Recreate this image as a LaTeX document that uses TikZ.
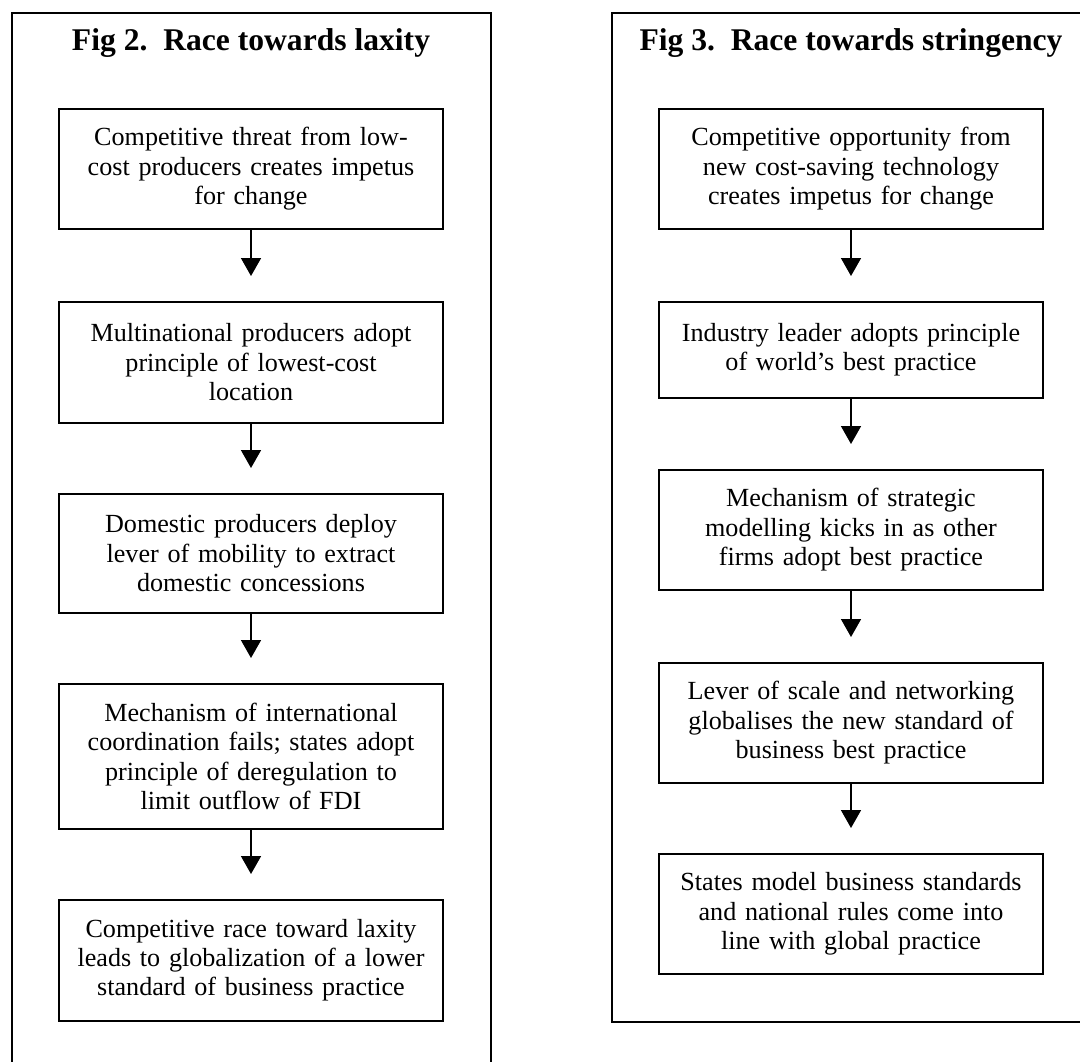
\documentclass[tikz,border=0pt]{standalone}
\usepackage{fontspec}
\setmainfont{Liberation Serif}
\usetikzlibrary{arrows.meta}
\begin{document}
\begin{tikzpicture}[x=0.75pt,y=-0.75pt,
  frame/.style={draw,line width=1.3pt},
  stepbox/.style={draw,line width=1.2pt,rectangle,anchor=north,text width=282pt,inner xsep=3pt,align=center,font=\fontsize{19.6pt}{22pt}\selectfont},
  ttl/.style={anchor=base,font=\fontsize{23.7pt}{26pt}\selectfont\bfseries},
  arr/.style={line width=1.2pt,-{Triangle[width=15pt,length=13.5pt]},shorten >=18.75pt}]
\useasboundingbox (0,0) rectangle (1080,1061);
\clip (0,0) rectangle (1080,1061);
\draw[frame] (12,13) rectangle (491,1080);
\draw[frame] (612,13) rectangle (1091,1022);

\node[ttl] (t2) at (251,50) {Fig 2.\ \ Race towards laxity};
\node[ttl] (t3) at (851,50) {Fig 3.\ \ Race towards stringency};

\node[stepbox,minimum height=90pt] (L1) at (251,108) {Competitive threat from low-\\cost producers creates impetus\\for change};
\node[stepbox,minimum height=90.75pt] (L2) at (251,301) {Multinational producers adopt\\principle of lowest-cost\\location};
\node[stepbox,minimum height=89.25pt] (L3) at (251,493) {Domestic producers deploy\\lever of mobility to extract\\domestic concessions};
\node[stepbox,minimum height=108.75pt] (L4) at (251,683) {Mechanism of international\\coordination fails; states adopt\\principle of deregulation to\\limit outflow of FDI};
\node[stepbox,minimum height=90.75pt] (L5) at (251,899) {Competitive race toward laxity\\leads to globalization of a lower\\standard of business practice};

\node[stepbox,minimum height=90pt] (R1) at (851,108) {Competitive opportunity from\\new cost-saving technology\\creates impetus for change};
\node[stepbox,minimum height=72pt] (R2) at (851,301) {Industry leader adopts principle\\of world’s best practice};
\node[stepbox,minimum height=90pt] (R3) at (851,469) {Mechanism of strategic\\modelling kicks in as other\\firms adopt best practice};
\node[stepbox,minimum height=90pt] (R4) at (851,662) {Lever of scale and networking\\globalises the new standard of\\business best practice};
\node[stepbox,minimum height=90pt] (R5) at (851,853) {States model business standards\\and national rules come into\\line with global practice};

\draw[arr] (L1.south) -- (L2.north);
\draw[arr] (L2.south) -- (L3.north);
\draw[arr] (L3.south) -- (L4.north);
\draw[arr] (L4.south) -- (L5.north);
\draw[arr] (R1.south) -- (R2.north);
\draw[arr] (R2.south) -- (R3.north);
\draw[arr] (R3.south) -- (R4.north);
\draw[arr] (R4.south) -- (R5.north);
\end{tikzpicture}
\end{document}
